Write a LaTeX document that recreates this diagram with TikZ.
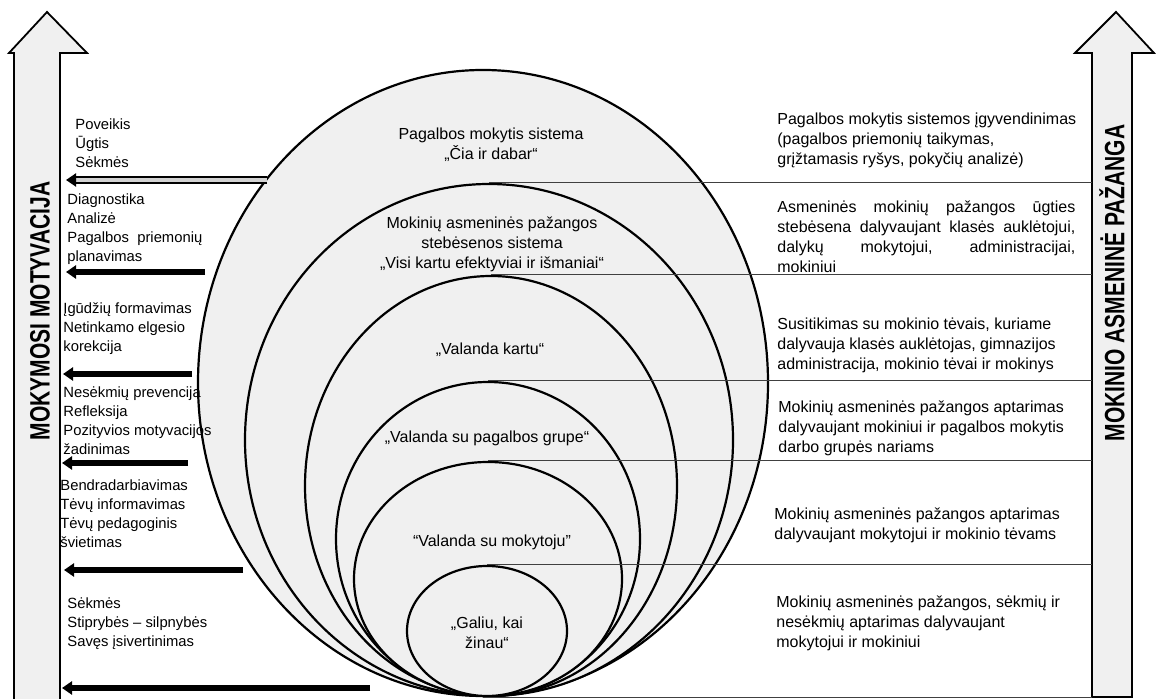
\documentclass[tikz,border=0pt]{standalone}
\usepackage{fontspec}
\setmainfont{Liberation Sans}
\newfontfamily\barfont[FakeStretch=0.75]{Liberation Sans}
\usepackage{tikz}
\usetikzlibrary{shapes.geometric, arrows.meta}

\begin{document}
\begin{tikzpicture}[
    x=0.5pt, y=-0.5pt,
    ring/.style={ellipse, draw, line width=1.1pt, fill=gray!12, inner sep=0pt},
    ringlabel/.style={align=center, font=\fontsize{8}{10}\selectfont, inner sep=0pt},
    lefttext/.style={anchor=west, align=left, font=\fontsize{7.4}{9.5}\selectfont, inner sep=0pt},
    righttext/.style={anchor=west, align=left, font=\fontsize{8}{10}\selectfont, inner sep=0pt},
    levelline/.style={draw=black!75, line width=0.6pt},
    backarrow/.style={line width=2.8pt, -{Triangle[length=5pt,width=6.5pt]}},
    bigarrow/.style={draw, line width=0.9pt, fill=gray!12},
    barlabel/.style={rotate=90, font=\barfont\bfseries\fontsize{14}{16}\selectfont, inner sep=0pt}
]
\useasboundingbox (0,0) rectangle (1156,699);

% nested levels of help
\node[ring, minimum width=285pt, minimum height=313pt] (e1) at (483,383) {};
\node[ring, minimum width=244pt, minimum height=256pt] (e2) at (489,440) {};
\node[ring, minimum width=186pt, minimum height=210pt] (e3) at (491,486) {};
\node[ring, minimum width=152pt, minimum height=157pt] (e4) at (488,539) {};
\node[ring, minimum width=134pt, minimum height=117pt] (e5) at (488,579) {};
\node[ring, minimum width=80pt, minimum height=65pt] (e6) at (487,631) {};

\node[ringlabel] (l1) at (491,145) {Pagalbos mokytis sistema\\„Čia ir dabar“};
\node[ringlabel] (l2) at (492,244) {Mokinių asmeninės pažangos\\stebėsenos sistema\\„Visi kartu efektyviai ir išmaniai“};
\node[ringlabel] (l3) at (490,350) {„Valanda kartu“};
\node[ringlabel] (l4) at (487,438) {„Valanda su pagalbos grupe“};
\node[ringlabel] (l5) at (492,542) {“Valanda su mokytoju”};
\node[ringlabel] (l6) at (487,633) {„Galiu, kai\\žinau“};

% big side arrows
\draw[bigarrow] (14,699) -- (14,53) -- (9,53) -- (47,12) -- (87,53) -- (60,53) -- (60,699);
\draw[bigarrow] (1092,697) -- (1092,53) -- (1075,53) -- (1116,12) -- (1154,53) -- (1132,53) -- (1132,697) -- cycle;
\node[barlabel] (mot) at (40,311) {MOKYMOSI MOTYVACIJA};
\node[barlabel] (paz) at (1112,283) {MOKINIO ASMENINĖ PAŽANGA};

% level lines to the right
\coordinate (rs) at (1092,0);
\draw[levelline] (e2.north) -- (e2.north -| rs);
\draw[levelline] (e3.north) -- (e3.north -| rs);
\draw[levelline] (e4.north) -- (e4.north -| rs);
\draw[levelline] (e5.north) -- (e5.north -| rs);
\draw[levelline] (e6.north) -- (e6.north -| rs);
\draw[levelline] (e1.south) -- (e1.south -| rs);

\node[righttext] (t1) at (777,140) {Pagalbos mokytis sistemos įgyvendinimas\\(pagalbos priemonių taikymas,\\grįžtamasis ryšys, pokyčių analizė)};
\node[righttext, text width=149pt] (t2) at (777,237) {Asmeninės\hfill mokinių\hfill pažangos\hfill ūgties\\stebėsena\hfill dalyvaujant\hfill klasės\hfill auklėtojui,\\dalykų\hfill mokytojui,\hfill administracijai,\\mokiniui};
\node[righttext] (t3) at (777,345) {Susitikimas su mokinio tėvais, kuriame\\dalyvauja klasės auklėtojas, gimnazijos\\administracija, mokinio tėvai ir mokinys};
\node[righttext] (t4) at (778,428) {Mokinių asmeninės pažangos aptarimas\\dalyvaujant mokiniui ir pagalbos mokytis\\darbo grupės nariams};
\node[righttext] (t5) at (774,525) {Mokinių asmeninės pažangos aptarimas\\dalyvaujant mokytojui ir mokinio tėvams};
\node[righttext] (t6) at (776,623) {Mokinių asmeninės pažangos, sėkmių ir\\nesėkmių aptarimas dalyvaujant\\mokytojui ir mokiniui};

% motivation side
\node[lefttext] (s1) at (75,143) {Poveikis\\Ūgtis\\Sėkmės};
\node[lefttext] (s2) at (67,229) {Diagnostika\\Analizė\\Pagalbos~ priemonių\\planavimas};
\node[lefttext] (s3) at (63,329) {Įgūdžių formavimas\\Netinkamo elgesio\\korekcija};
\node[lefttext] (s4) at (63,421) {Nesėkmių prevencija\\Refleksija\\Pozityvios motyvacijos\\žadinimas};
\node[lefttext] (s5) at (60,514) {Bendradarbiavimas\\Tėvų informavimas\\Tėvų pedagoginis\\švietimas};
\node[lefttext] (s6) at (67,624) {Sėkmės\\Stiprybės – silpnybės\\Savęs įsivertinimas};

\coordinate (a1s) at (267,180); \coordinate (a1e) at (66,180);
\coordinate (a2s) at (205,272); \coordinate (a2e) at (66,272);
\coordinate (a3s) at (192,374); \coordinate (a3e) at (63,374);
\coordinate (a4s) at (188,463); \coordinate (a4e) at (62,463);
\coordinate (a5s) at (243,570); \coordinate (a5e) at (64,570);
\coordinate (a6s) at (370,688); \coordinate (a6e) at (62,688);
\draw[backarrow, line width=1pt, double=gray!35, double distance=2pt] (a1s) -- (a1e);
\draw[backarrow] (a2s) -- (a2e);
\draw[backarrow] (a3s) -- (a3e);
\draw[backarrow] (a4s) -- (a4e);
\draw[backarrow] (a5s) -- (a5e);
\draw[backarrow] (a6s) -- (a6e);

\end{tikzpicture}
\end{document}
